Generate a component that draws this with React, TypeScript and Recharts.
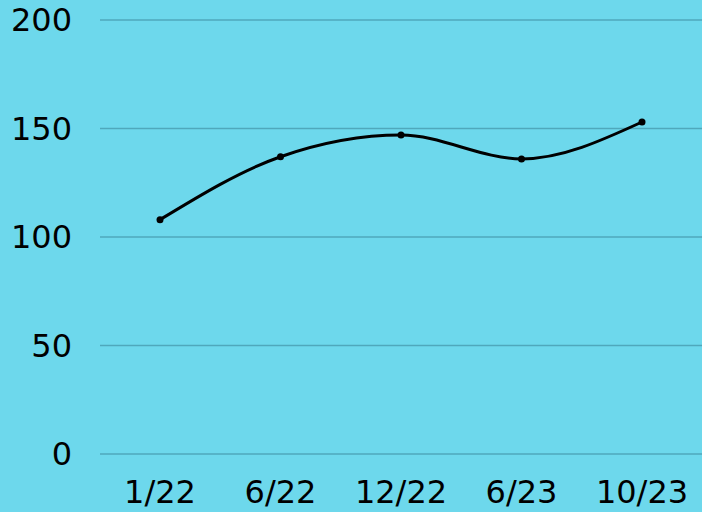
import { LineChart, Line, XAxis, YAxis, CartesianGrid } from 'recharts';

const months = ['1/22', '6/22', '12/22', '6/23', '10/23'];
const values = [108, 137, 147, 136, 153];
const yTicks = [0, 50, 100, 150, 200];

const data = months.map((month, i) => ({ month, value: values[i] }));

const tickStyle = { fill: '#000', fontSize: 32, fontFamily: 'DejaVu Sans' };

export default function App() {
  return (
    <div style={{ position: 'fixed', left: 0, top: 0, width: 702, height: 512, background: '#6DD8EC' }}>
      <LineChart width={702} height={512} data={data} margin={{ top: 20, right: 0, bottom: 0, left: 0 }}>
        <CartesianGrid vertical={false} stroke="#4FA8BC" strokeWidth={1.5} />
        <XAxis
          dataKey="month"
          axisLine={false}
          tickLine={false}
          tickSize={0}
          tickMargin={26}
          height={58}
          padding={{ left: 60, right: 60 }}
          tick={tickStyle}
          interval={0}
        />
        <YAxis
          domain={[0, 200]}
          ticks={yTicks}
          axisLine={false}
          tickLine={false}
          tickSize={0}
          tickMargin={28}
          width={100}
          tick={tickStyle}
        />
        <Line
          type="monotone"
          dataKey="value"
          stroke="#000"
          strokeWidth={3}
          dot={{ r: 3.5, fill: '#000', stroke: '#000', strokeWidth: 0 }}
          isAnimationActive={false}
        />
      </LineChart>
    </div>
  );
}
